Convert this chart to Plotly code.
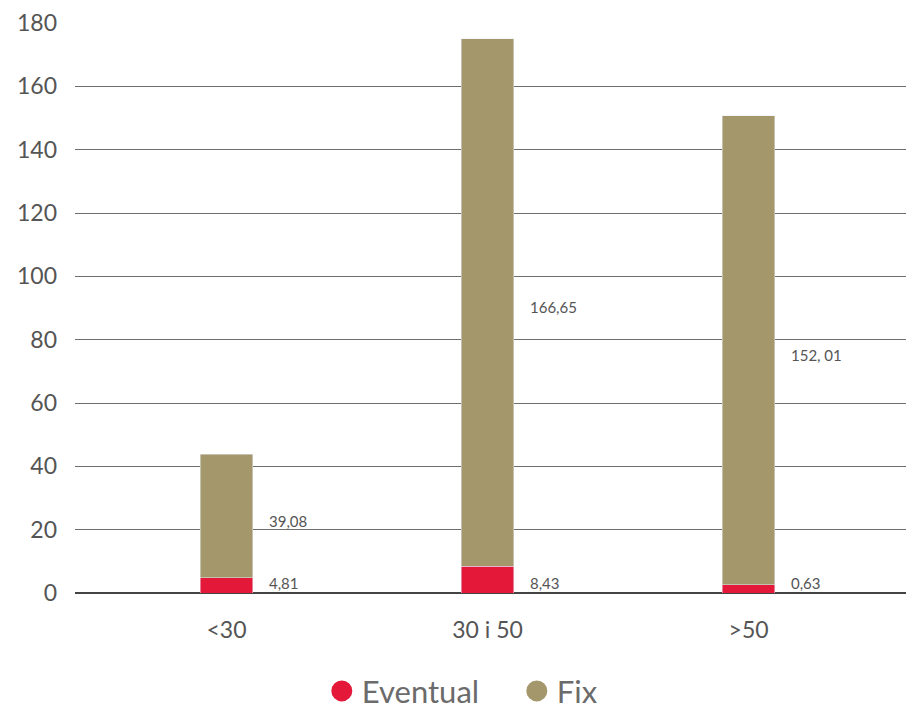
import plotly.graph_objects as go

categories = ["<30", "30 i 50", ">50"]
eventual = [4.81, 8.43, 2.6]
fix = [39.08, 166.65, 148.1]
eventual_labels = ["4,81", "8,43", "0,63"]
fix_labels = ["39,08", "166,65", "152, 01"]
y_ticks = [0, 20, 40, 60, 80, 100, 120, 140, 160, 180]

RED = "#E4193A"
OLIVE = "#A3976B"
TXT = "#555555"
FONT = "Lato, Open Sans, sans-serif"

fig = go.Figure()
fig.add_trace(go.Bar(x=categories, y=eventual, name="Eventual", marker_color=RED,
                     width=0.2, showlegend=False))
fig.add_trace(go.Bar(x=categories, y=fix, name="Fix", marker_color=OLIVE,
                     width=0.2, showlegend=False))
# legend entries with round markers
fig.add_trace(go.Scatter(x=[None], y=[None], mode="markers", name="Eventual",
                         marker=dict(color=RED, size=22, symbol="circle",
                                     line=dict(color=RED, width=5))))
fig.add_trace(go.Scatter(x=[None], y=[None], mode="markers", name="Fix",
                         marker=dict(color=OLIVE, size=22, symbol="circle",
                                     line=dict(color=OLIVE, width=5))))

for i, c in enumerate(categories):
    fig.add_annotation(x=c, y=0, text=eventual_labels[i], showarrow=False,
                       xanchor="left", yanchor="bottom", xshift=40, yshift=-1,
                       font=dict(size=15, color=TXT, family=FONT))
    fig.add_annotation(x=c, y=eventual[i] + fix[i] / 2 - 1.5, text=fix_labels[i], showarrow=False,
                       xanchor="left", yanchor="middle", xshift=40,
                       font=dict(size=15, color=TXT, family=FONT))

fig.update_layout(
    width=898, height=703,
    margin=dict(l=67, r=0, t=15, b=118, autoexpand=False),
    paper_bgcolor="white", plot_bgcolor="white",
    barmode="stack",
    font=dict(family=FONT, color=TXT, size=23),
    legend=dict(orientation="h", x=0.297, xanchor="left", y=-0.125, yanchor="top",
                traceorder="normal", font=dict(size=31, color="#6b6b6b"),
                itemsizing="trace", entrywidth=150),
    xaxis=dict(range=[-0.5805, 2.603], showgrid=False, showline=False, ticks="",
               tickfont=dict(size=23, color=TXT), ticklabelstandoff=21, automargin=False),
    yaxis=dict(range=[0, 180], tickvals=y_ticks, showgrid=True, gridcolor="#6e6e6e",
               gridwidth=1.2, zeroline=True, zerolinecolor="#444444", zerolinewidth=1.5,
               tickfont=dict(size=23, color=TXT), ticklabelstandoff=17, automargin=False),
)

fig.write_html("out.html")
